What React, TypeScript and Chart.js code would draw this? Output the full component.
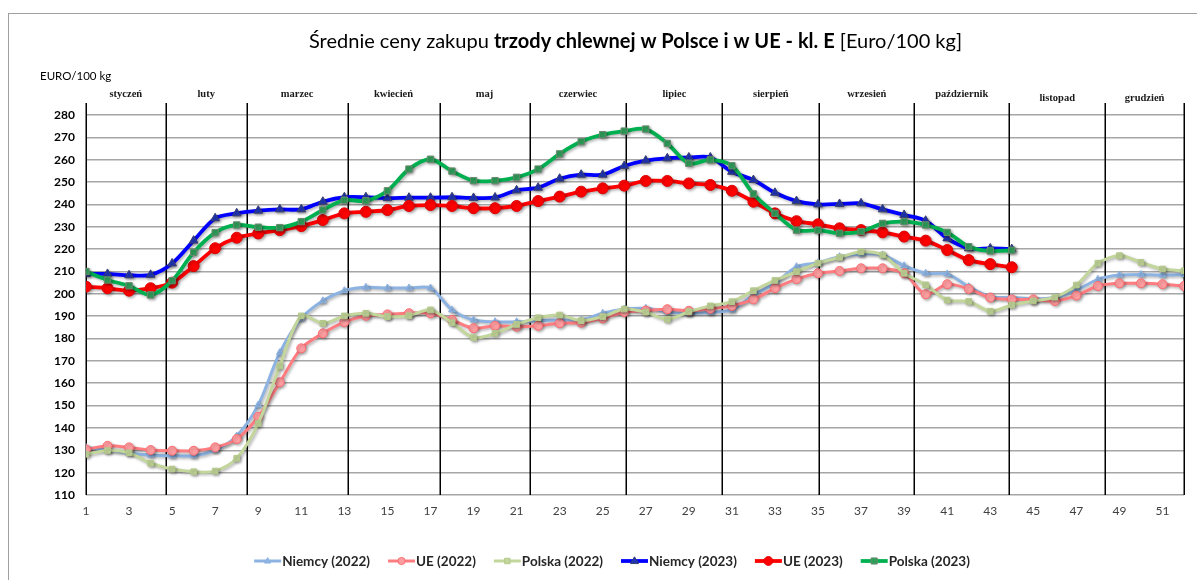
import React, { useEffect, useRef } from 'react';
import { Chart, registerables } from 'chart.js';

Chart.register(...registerables);

// ---------- DATA ----------
const xTickWeeks = [1, 3, 5, 7, 9, 11, 13, 15, 17, 19, 21, 23, 25, 27, 29, 31, 33, 35, 37, 39, 41, 43, 45, 47, 49, 51];
const months = ['styczeń', 'luty', 'marzec', 'kwiecień', 'maj', 'czerwiec', 'lipiec', 'sierpień', 'wrzesień', 'październik', 'listopad', 'grudzień'];
const monthBoundaries = [1, 4.7, 8.46, 13.15, 17.42, 21.6, 26.1, 30.56, 35.06, 39.47, 43.88, 48.34, 52];

const niemcy2022 = [
  131.2, 130.1, 128.9, 127.9, 127.6, 127.6, 130.1, 136.4, 150.3, 173.7,
  189.0, 196.9, 201.4, 202.9, 202.6, 202.6, 202.6, 192.8, 188.3, 187.5,
  187.5, 188.0, 188.3, 188.3, 191.3, 193.1, 193.5, 192.0, 191.3, 191.8,
  192.8, 199.5, 204.7, 212.1, 213.9, 216.6, 217.8, 217.4, 212.6, 209.2,
  208.9, 203.2, 198.7, 198.4, 197.8, 198.4, 201.7, 206.5, 208.4, 208.7,
  208.4, 208.7,
];
const ue2022 = [
  130.4, 132.0, 131.3, 130.1, 129.8, 129.8, 131.3, 135.0, 145.0, 160.4,
  175.6, 182.3, 187.3, 190.2, 190.8, 191.3, 191.3, 188.3, 184.6, 185.7,
  185.3, 185.7, 186.8, 187.1, 189.0, 191.8, 192.5, 193.1, 192.4, 193.3,
  194.6, 197.5, 202.5, 206.6, 209.2, 210.2, 211.4, 211.4, 209.2, 199.8,
  204.3, 202.2, 198.3, 197.5, 197.5, 196.8, 199.2, 203.5, 204.7, 204.7,
  204.3, 203.5,
];
const polska2022 = [
  128.2, 129.9, 128.9, 124.2, 121.6, 120.4, 120.7, 126.4, 142.0, 167.7,
  190.1, 186.8, 190.1, 191.3, 189.8, 190.2, 192.8, 187.1, 180.4, 182.3,
  186.3, 189.3, 190.5, 188.0, 189.8, 193.2, 191.8, 188.6, 192.0, 194.6,
  196.5, 201.4, 206.0, 209.9, 213.7, 216.3, 218.8, 217.4, 209.2, 204.0,
  197.2, 196.6, 192.2, 195.0, 196.8, 198.5, 203.9, 213.7, 217.1, 214.1,
  211.1, 210.3,
];
const niemcy2023 = [
  208.9, 208.9, 208.3, 208.5, 213.6, 223.8, 233.8, 236.0, 237.2, 237.8,
  237.8, 241.2, 243.2, 243.2, 242.8, 243.0, 243.0, 243.2, 242.9, 243.1,
  246.3, 247.5, 251.5, 253.3, 253.3, 257.2, 259.6, 260.6, 261.0, 261.0,
  254.6, 250.9, 245.2, 241.5, 240.0, 240.2, 240.5, 237.8, 235.3, 232.7,
  224.8, 220.4, 220.3, 220.0,
];
const ue2023 = [
  203.2, 202.5, 201.4, 202.5, 205.0, 212.4, 220.4, 225.1, 227.0, 228.5,
  230.3, 233.0, 236.0, 236.7, 237.5, 239.3, 239.7, 239.3, 238.3, 238.3,
  239.3, 241.5, 243.5, 245.7, 247.2, 248.4, 250.5, 250.5, 249.4, 248.7,
  246.1, 241.2, 236.0, 232.5, 231.1, 229.3, 228.5, 227.5, 225.6, 223.8,
  219.6, 215.1, 213.3, 211.9,
];
const polska2023 = [
  210.0, 206.2, 203.6, 199.5, 205.9, 218.6, 227.4, 230.8, 229.8, 229.6,
  232.3, 237.5, 241.9, 241.6, 246.1, 255.8, 260.2, 254.9, 250.6, 250.6,
  252.1, 255.8, 262.6, 268.1, 271.2, 272.8, 273.7, 267.3, 258.4, 259.9,
  257.3, 244.7, 236.0, 228.5, 228.5, 227.1, 227.8, 231.5, 232.3, 230.8,
  227.5, 221.1, 219.2, 219.5,
];

const seriesNames = ['Niemcy (2022)', 'UE (2022)', 'Polska (2022)', 'Niemcy (2023)', 'UE (2023)', 'Polska (2023)'];
const seriesValues = [niemcy2022, ue2022, polska2022, niemcy2023, ue2023, polska2023];

// ---------- STYLES ----------
const styles = [
  { line: '#8db3e2', fill: '#8db3e2', border: '#8db3e2', marker: 'triangle', r: 4, lw: 3 },
  { line: '#ff7c80', fill: '#ff9ea1', border: '#ff6b70', marker: 'circle', r: 4.5, lw: 3 },
  { line: '#c3d69b', fill: '#c3d69b', border: '#b3c98a', marker: 'rect', r: 4, lw: 3 },
  { line: '#0000ff', fill: '#1f35b5', border: '#3a3f6e', marker: 'triangle', r: 5, lw: 3.8 },
  { line: '#ff0000', fill: '#ff0000', border: '#e00000', marker: 'circle', r: 5.5, lw: 3.8 },
  { line: '#00b050', fill: '#2f9e5a', border: '#6b8a6f', marker: 'rect', r: 4.5, lw: 3.8 },
];

const FONT = 'Lato, "Open Sans", sans-serif';

function drawMarker(ctx: CanvasRenderingContext2D, type: string, x: number, y: number, r: number, fill: string, border: string) {
  ctx.save();
  ctx.fillStyle = fill;
  ctx.strokeStyle = border;
  ctx.lineWidth = 1;
  ctx.beginPath();
  if (type === 'circle') {
    ctx.arc(x, y, r, 0, Math.PI * 2);
  } else if (type === 'rect') {
    ctx.rect(x - r * 0.85, y - r * 0.85, r * 1.7, r * 1.7);
  } else {
    const h = r * 1.6;
    ctx.moveTo(x, y - h * 0.66);
    ctx.lineTo(x + r, y + h * 0.4);
    ctx.lineTo(x - r, y + h * 0.4);
    ctx.closePath();
  }
  ctx.fill();
  ctx.stroke();
  ctx.restore();
}

const shadowPlugin = {
  id: 'shadowPlugin',
  beforeDatasetDraw(chart: any) {
    const ctx = chart.ctx;
    ctx.save();
    ctx.shadowColor = 'rgba(0,0,0,0.3)';
    ctx.shadowBlur = 3;
    ctx.shadowOffsetX = 1.5;
    ctx.shadowOffsetY = 1.5;
  },
  afterDatasetDraw(chart: any) {
    chart.ctx.restore();
  },
};

const decorPlugin = {
  id: 'decorPlugin',
  beforeDatasetsDraw(chart: any) {
    const { ctx, chartArea, scales } = chart;
    const xs = scales.x;
    ctx.save();
    ctx.strokeStyle = '#000';
    ctx.lineWidth = 1.5;
    monthBoundaries.forEach((w) => {
      const px = Math.round(xs.getPixelForValue(w)) + 0.25;
      ctx.beginPath();
      ctx.moveTo(px, chartArea.top - 12);
      ctx.lineTo(px, chartArea.bottom);
      ctx.stroke();
    });
    ctx.restore();
  },
  afterDraw(chart: any) {
    const { ctx, scales } = chart;
    const xs = scales.x;
    ctx.save();

    // Title with bold middle part
    const segs = [
      { t: 'Średnie ceny zakupu ', b: false },
      { t: 'trzody chlewnej w Polsce i w UE - kl. E', b: true },
      { t: ' [Euro/100 kg]', b: false },
    ];
    const base = 20;
    const measure = (size: number) =>
      segs.reduce((acc, s) => {
        ctx.font = `${s.b ? 'bold ' : ''}${size}px ${FONT}`;
        return acc + ctx.measureText(s.t).width;
      }, 0);
    const w0 = measure(base);
    const size = Math.min(base, (base * 659) / w0);
    const total = measure(size);
    let tx = 635.5 - total / 2;
    ctx.fillStyle = '#000';
    ctx.textBaseline = 'middle';
    ctx.textAlign = 'left';
    segs.forEach((s) => {
      ctx.font = `${s.b ? 'bold ' : ''}${size}px ${FONT}`;
      ctx.fillText(s.t, tx, 42);
      tx += ctx.measureText(s.t).width;
    });

    // Axis unit label
    ctx.font = `11.5px ${FONT}`;
    ctx.fillStyle = '#000';
    ctx.fillText('EURO/100 kg', 40, 76);

    // Month labels
    ctx.font = 'bold 10.5px "Liberation Serif", "DejaVu Serif", serif';
    ctx.textAlign = 'center';
    ctx.fillStyle = '#1a1a1a';
    months.forEach((m, i) => {
      const a = xs.getPixelForValue(monthBoundaries[i]);
      const b = xs.getPixelForValue(monthBoundaries[i + 1]);
      const yy = i >= 10 ? 98 : 94;
      ctx.fillText(m, (a + b) / 2, yy);
    });

    // Legend
    const lf = `bold 13.5px ${FONT}`;
    ctx.font = lf;
    ctx.textAlign = 'left';
    const ly = 561;
    const lineLen = 27;
    const gap = 18;
    const widths = seriesNames.map((n) => ctx.measureText(n).width);
    const totalW = widths.reduce((a, w) => a + lineLen + 1 + w, 0) + gap * (seriesNames.length - 1);
    let lx = 612 - totalW / 2;
    seriesNames.forEach((n, i) => {
      const st = styles[i];
      ctx.strokeStyle = st.line;
      ctx.lineWidth = st.lw;
      ctx.beginPath();
      ctx.moveTo(lx, ly);
      ctx.lineTo(lx + lineLen, ly);
      ctx.stroke();
      drawMarker(ctx, st.marker, lx + lineLen / 2, ly, st.r * 0.8, st.fill, st.border);
      ctx.font = lf;
      ctx.fillStyle = '#262626';
      ctx.textBaseline = 'middle';
      ctx.fillText(n, lx + lineLen + 1, ly + 1);
      lx += lineLen + 1 + widths[i] + gap;
    });

    ctx.restore();
  },
};

export default function App() {
  const canvasRef = useRef<HTMLCanvasElement | null>(null);

  useEffect(() => {
    const canvas = canvasRef.current;
    if (!canvas) return;
    const datasets = seriesValues.map((vals, i) => {
      const st = styles[i];
      return {
        label: seriesNames[i],
        data: vals.map((v, k) => ({ x: k + 1, y: v })),
        borderColor: st.line,
        backgroundColor: st.fill,
        borderWidth: st.lw,
        pointStyle: st.marker,
        pointRadius: st.r,
        pointBackgroundColor: st.fill,
        pointBorderColor: st.border,
        pointBorderWidth: 1,
        tension: 0.3,
        fill: false,
        order: seriesNames.length - i,
      };
    });

    const chart = new Chart(canvas, {
      type: 'line',
      data: { datasets },
      plugins: [shadowPlugin, decorPlugin],
      options: {
        animation: false,
        responsive: false,
        devicePixelRatio: 1,
        layout: { padding: { left: 0, top: 115, right: 13, bottom: 55 } },
        plugins: {
          legend: { display: false },
          title: { display: false },
          tooltip: { enabled: false },
        },
        scales: {
          x: {
            type: 'linear',
            min: 1,
            max: 52,
            afterBuildTicks: (scale: any) => {
              scale.ticks = xTickWeeks.map((v) => ({ value: v }));
            },
            afterFit: (scale: any) => {
              scale.height = 30;
            },
            grid: { display: false, drawTicks: false },
            border: { display: false },
            ticks: {
              autoSkip: false,
              maxRotation: 0,
              padding: 9,
              color: '#404040',
              font: { family: FONT, size: 12 },
              callback: (v: any) => String(v),
            },
          },
          y: {
            min: 110,
            max: 280,
            afterFit: (scale: any) => {
              scale.width = 86;
            },
            grid: { color: '#a6a6a6', lineWidth: 1.5, drawTicks: false },
            border: { display: false },
            ticks: {
              stepSize: 10,
              padding: 11,
              color: '#000',
              font: { family: FONT, size: 12, weight: 'bold' },
            },
          },
        },
      } as any,
    });
    return () => chart.destroy();
  }, []);

  return (
    <div style={{ position: 'absolute', left: 0, top: 0, width: 1197, height: 580, overflow: 'hidden', background: '#fff' }}>
      <div
        style={{
          position: 'absolute',
          left: 8,
          top: 13,
          width: 1260,
          height: 700,
          border: '1px solid #a0a0a0',
          boxSizing: 'border-box',
        }}
      />
      <canvas ref={canvasRef} width={1197} height={580} style={{ position: 'absolute', left: 0, top: 0, width: 1197, height: 580 }} />
    </div>
  );
}
